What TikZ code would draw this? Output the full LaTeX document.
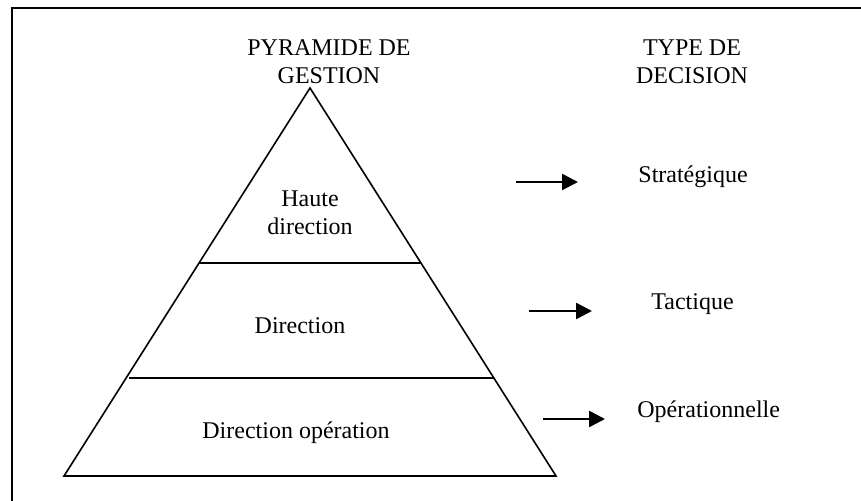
\documentclass[tikz,border=0pt]{standalone}
\usepackage{fontspec}
\setmainfont{Liberation Serif}
\usepackage{tikz}
\usetikzlibrary{arrows.meta}

\begin{document}
\begin{tikzpicture}[x=0.5pt,y=-0.5pt,
        txt/.style={font=\fontsize{12}{14}\selectfont, align=center, inner sep=0pt},
        level/.style={line width=0.8pt},
        todecision/.style={line width=1.2pt, -{Triangle[length=8pt,width=8pt]}}]
        \useasboundingbox (0,0) rectangle (861,501);
        \draw[line width=1.1pt] (861,8) -- (12,8) -- (12,501);
        % pyramide
        \coordinate (apex) at (310,88);
        \coordinate (baseL) at (64,476);
        \coordinate (baseR) at (556,476);
        \draw[level, line join=miter] (baseL) -- (apex) -- (baseR) -- cycle;
        \draw[level] (199,263) -- (421,263);
        \draw[level] (129,378) -- (494,378);
        \node[txt, anchor=north] (pyrtitle) at (329,39) {PYRAMIDE DE\\GESTION};
        \node[txt, anchor=north] (typetitle) at (692,39) {TYPE DE\\DECISION};
        \node[txt, anchor=north] (haute) at (310,190) {Haute\\direction};
        \node[txt, anchor=base] (dir) at (300,334) {Direction};
        \node[txt, anchor=base] (dirop) at (296,439) {Direction opération};
        % types de decision
        \node[txt, anchor=base west] (strat) at (638,183) {Stratégique};
        \node[txt, anchor=base west] (tact) at (651,310) {Tactique};
        \node[txt, anchor=base west] (oper) at (637,418) {Opérationnelle};
        \coordinate (s1) at (516,182);
        \coordinate (e1) at (578,182);
        \coordinate (s2) at (529,311);
        \coordinate (e2) at (592,311);
        \coordinate (s3) at (543,419);
        \coordinate (e3) at (605,419);
        \draw[todecision] (s1) -- (e1);
        \draw[todecision] (s2) -- (e2);
        \draw[todecision] (s3) -- (e3);
    \end{tikzpicture}
\end{document}
